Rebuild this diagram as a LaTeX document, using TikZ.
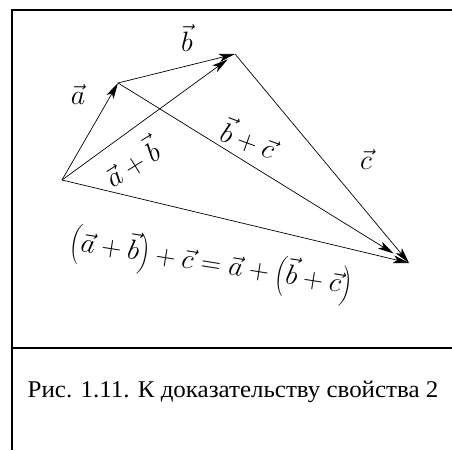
\documentclass[tikz,border=0pt]{standalone}
\usepackage{fontspec}
\setmainfont{Liberation Serif}
\usetikzlibrary{arrows.meta}

\tikzset{
  vec/.style={line width=0.7pt,-{Stealth[length=16pt,width=8pt,inset=4pt]}},
  frame/.style={line width=1.6pt},
  lbl/.style={font=\fontsize{20}{24}\selectfont,scale=1.35}
}

\begin{document}
\begin{tikzpicture}[x=1pt,y=-1pt]
  \useasboundingbox (0,0) rectangle (452,450);
  % frame
  \draw[frame] (12,450) -- (12,10) -- (452,10);
  \draw[line width=1.2pt] (12,348) -- (452,348);
  % points
  \coordinate (O) at (62,180);
  \coordinate (A) at (118,83);
  \coordinate (B) at (235,54);
  \coordinate (C) at (409,263);
  % vectors
  \draw[vec] (O) -- (A);
  \draw[vec] (A) -- (B);
  \draw[vec,shorten >=9pt] (O) -- (B);
  \draw[vec] (B) -- (C);
  \draw[vec,shorten >=18pt] (A) -- (C);
  \draw[vec] (O) -- (C);
  % labels
  \node[lbl] (la) at (78,95) {$\vec a$};
  \node[lbl] (lb) at (187,38) {$\vec b$};
  \node[lbl] (lc) at (366,160) {$\vec c$};
  \node[lbl,rotate=-20] (lbc) at (249,138) {$\vec b+\vec c$};
  \node[lbl,rotate=32] (lab) at (131,162) {$\vec a+\vec b$};
  \node[lbl,rotate=-9] (leq) at (211,265) {$\left(\vec a+\vec b\right)+\vec c=\vec a+\left(\vec b+\vec c\right)$};
  % caption
  \node[font=\fontsize{24}{27}\selectfont,xscale=1.04] (cap) at (233,392) {Рис. 1.11. К доказательству свойства 2};
\end{tikzpicture}
\end{document}
